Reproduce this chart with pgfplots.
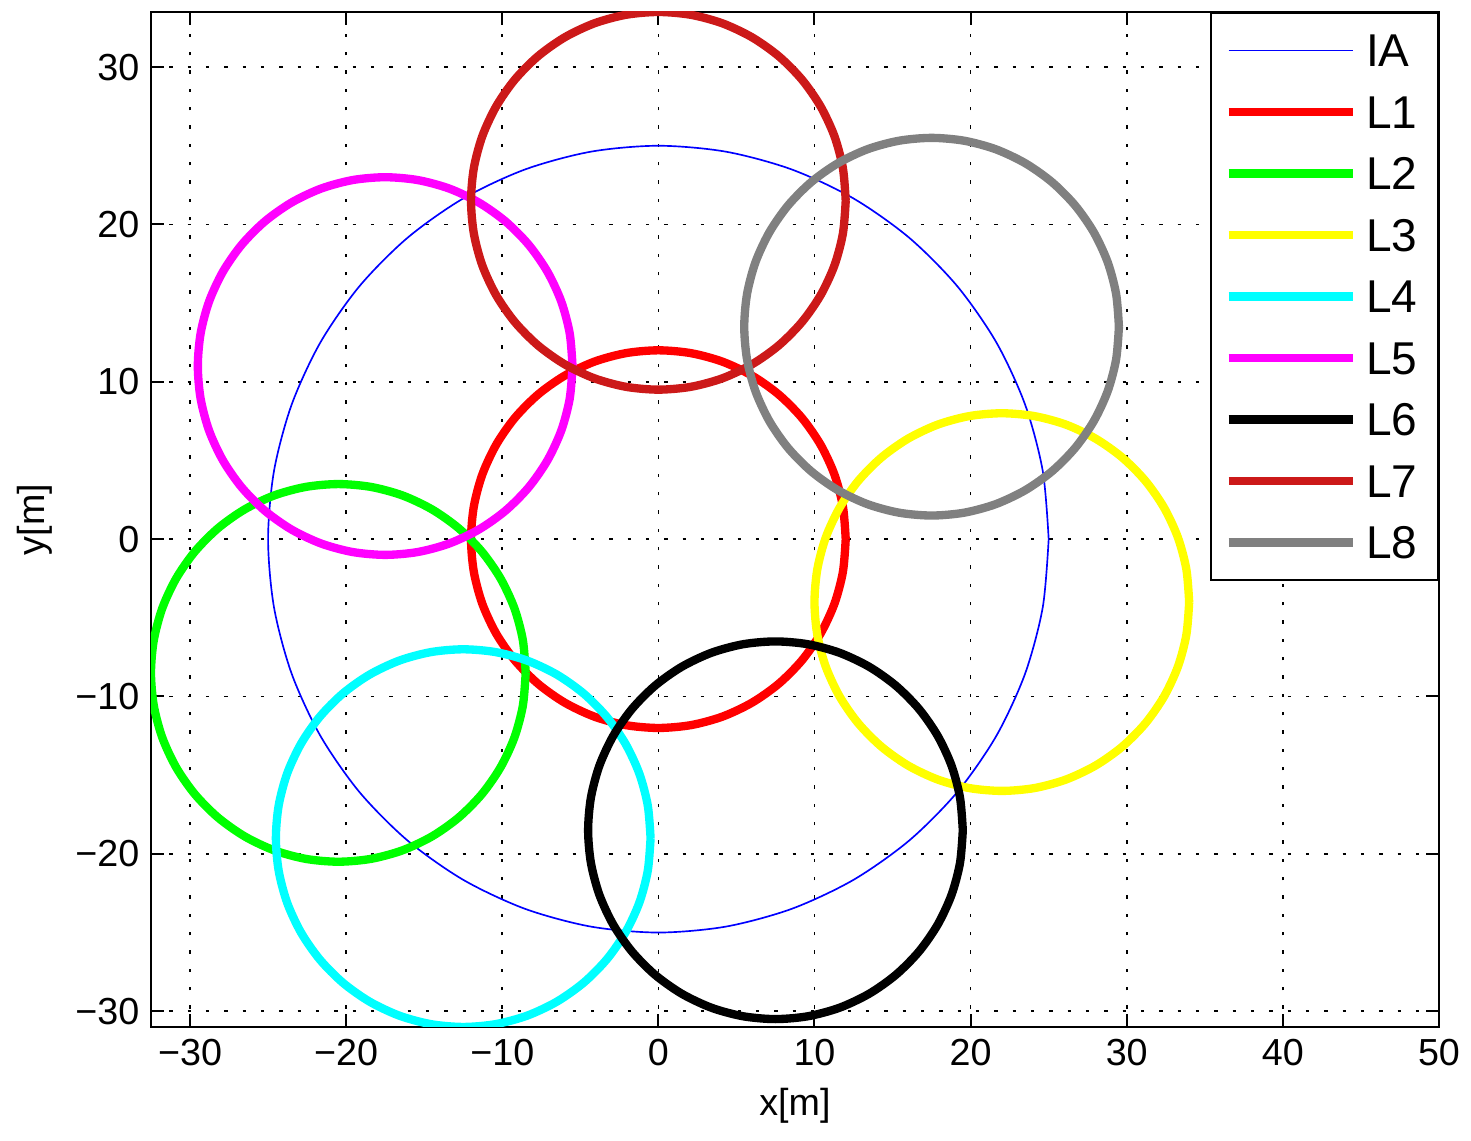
\documentclass[border=0pt]{standalone}
\usepackage{fontspec}
\setmainfont{Liberation Sans}
\usepackage{pgfplots}
\pgfplotsset{compat=1.18}
\definecolor{lred}{rgb}{1,0,0}
\definecolor{lgreen}{rgb}{0,1,0}
\definecolor{lyellow}{rgb}{1,1,0}
\definecolor{lcyan}{rgb}{0,1,1}
\definecolor{lmagenta}{rgb}{1,0,1}
\definecolor{lseven}{rgb}{0.8,0.1,0.1}
\definecolor{leight}{rgb}{0.5,0.5,0.5}
\definecolor{lblue}{rgb}{0,0,1}

\begin{document}
\begin{tikzpicture}
\begin{axis}[
  scale only axis,
  width=386.4pt, height=304.5pt,
  xmin=-32.5, xmax=50, ymin=-31, ymax=33.5,
  xtick={-30,-20,...,50}, ytick={-30,-20,...,30},
  xticklabels={−30,−20,−10,0,10,20,30,40,50},
  yticklabels={−30,−20,−10,0,10,20,30},
  tick align=inside, tick pos=both,
  major tick length=4pt,
  tick style={black, line width=0.6pt},
  axis line style={line width=0.6pt},
  grid=major,
  grid style={black, line width=0.5pt, dash pattern=on 1pt off 4.5pt},
  ticklabel style={font=\fontsize{11.3}{13}\selectfont},
  label style={font=\fontsize{11.3}{13}\selectfont},
  xlabel={x[m]}, ylabel={y[m]},
  legend style={at={(1,1)}, anchor=north east, draw=black, line width=0.6pt,
    font=\fontsize{13.8}{15}\selectfont, inner xsep=4pt, inner ysep=6.3pt,
    row sep=8.55pt,
    /tikz/every odd column/.append style={column sep=0.6pt},
    nodes={inner ysep=0pt, inner xsep=2.2pt, text height=9.9pt, text depth=0pt}},
  legend cell align=left,
  legend image code/.code={\path (0pt,0pt) -- (1.6pt,0pt);
    \draw[#1] (1.6pt,0pt) -- (37.2pt,0pt);},
  every axis plot/.append style={line join=round},
]
% IA
\addplot[lblue, line width=0.5pt, smooth] coordinates {
(25,0) (24.62,4.34) (23.49,8.55) (21.65,12.5) (19.15,16.07) (16.07,19.15) (12.5,21.65) (8.55,23.49) (4.34,24.62)
(0,25) (-4.34,24.62) (-8.55,23.49) (-12.5,21.65) (-16.07,19.15) (-19.15,16.07) (-21.65,12.5) (-23.49,8.55) (-24.62,4.34)
(-25,0) (-24.62,-4.34) (-23.49,-8.55) (-21.65,-12.5) (-19.15,-16.07) (-16.07,-19.15) (-12.5,-21.65) (-8.55,-23.49) (-4.34,-24.62)
(0,-25) (4.34,-24.62) (8.55,-23.49) (12.5,-21.65) (16.07,-19.15) (19.15,-16.07) (21.65,-12.5) (23.49,-8.55) (24.62,-4.34)
(25,0)};
\addlegendentry{IA}
% L1
\addplot[lred, line width=2.5pt, smooth] coordinates {
(12,0) (11.82,2.08) (11.28,4.10) (10.39,6) (9.19,7.71) (7.71,9.19) (6,10.39) (4.10,11.28) (2.08,11.82)
(0,12) (-2.08,11.82) (-4.10,11.28) (-6,10.39) (-7.71,9.19) (-9.19,7.71) (-10.39,6) (-11.28,4.10) (-11.82,2.08)
(-12,0) (-11.82,-2.08) (-11.28,-4.10) (-10.39,-6) (-9.19,-7.71) (-7.71,-9.19) (-6,-10.39) (-4.10,-11.28) (-2.08,-11.82)
(0,-12) (2.08,-11.82) (4.10,-11.28) (6,-10.39) (7.71,-9.19) (9.19,-7.71) (10.39,-6) (11.28,-4.10) (11.82,-2.08)
(12,0)};
\addlegendentry{L1}
% L2
\addplot[lgreen, line width=2.5pt, smooth] coordinates {
(-8.5,-8.5) (-8.68,-6.42) (-9.22,-4.40) (-10.11,-2.5) (-11.31,-0.79) (-12.79,0.69) (-14.5,1.89) (-16.4,2.78) (-18.42,3.32)
(-20.5,3.5) (-22.58,3.32) (-24.6,2.78) (-26.5,1.89) (-28.21,0.69) (-29.69,-0.79) (-30.89,-2.5) (-31.78,-4.40) (-32.32,-6.42)
(-32.5,-8.5) (-32.32,-10.58) (-31.78,-12.6) (-30.89,-14.5) (-29.69,-16.21) (-28.21,-17.69) (-26.5,-18.89) (-24.6,-19.78) (-22.58,-20.32)
(-20.5,-20.5) (-18.42,-20.32) (-16.4,-19.78) (-14.5,-18.89) (-12.79,-17.69) (-11.31,-16.21) (-10.11,-14.5) (-9.22,-12.6) (-8.68,-10.58)
(-8.5,-8.5)};
\addlegendentry{L2}
% L3
\addplot[lyellow, line width=2.5pt, smooth] coordinates {
(34,-4) (33.82,-1.92) (33.28,0.10) (32.39,2) (31.19,3.71) (29.71,5.19) (28,6.39) (26.10,7.28) (24.08,7.82)
(22,8) (19.92,7.82) (17.90,7.28) (16,6.39) (14.29,5.19) (12.81,3.71) (11.61,2) (10.72,0.10) (10.18,-1.92)
(10,-4) (10.18,-6.08) (10.72,-8.10) (11.61,-10) (12.81,-11.71) (14.29,-13.19) (16,-14.39) (17.90,-15.28) (19.92,-15.82)
(22,-16) (24.08,-15.82) (26.10,-15.28) (28,-14.39) (29.71,-13.19) (31.19,-11.71) (32.39,-10) (33.28,-8.10) (33.82,-6.08)
(34,-4)};
\addlegendentry{L3}
% L4
\addplot[lcyan, line width=2.5pt, smooth] coordinates {
(-0.5,-19) (-0.68,-16.92) (-1.22,-14.90) (-2.11,-13) (-3.31,-11.29) (-4.79,-9.81) (-6.5,-8.61) (-8.4,-7.72) (-10.42,-7.18)
(-12.5,-7) (-14.58,-7.18) (-16.6,-7.72) (-18.5,-8.61) (-20.21,-9.81) (-21.69,-11.29) (-22.89,-13) (-23.78,-14.90) (-24.32,-16.92)
(-24.5,-19) (-24.32,-21.08) (-23.78,-23.10) (-22.89,-25) (-21.69,-26.71) (-20.21,-28.19) (-18.5,-29.39) (-16.6,-30.28) (-14.58,-30.82)
(-12.5,-31) (-10.42,-30.82) (-8.4,-30.28) (-6.5,-29.39) (-4.79,-28.19) (-3.31,-26.71) (-2.11,-25) (-1.22,-23.10) (-0.68,-21.08)
(-0.5,-19)};
\addlegendentry{L4}
% L5
\addplot[lmagenta, line width=2.5pt, smooth] coordinates {
(-5.5,11) (-5.68,13.08) (-6.22,15.10) (-7.11,17) (-8.31,18.71) (-9.79,20.19) (-11.5,21.39) (-13.4,22.28) (-15.42,22.82)
(-17.5,23) (-19.58,22.82) (-21.6,22.28) (-23.5,21.39) (-25.21,20.19) (-26.69,18.71) (-27.89,17) (-28.78,15.10) (-29.32,13.08)
(-29.5,11) (-29.32,8.92) (-28.78,6.90) (-27.89,5) (-26.69,3.29) (-25.21,1.81) (-23.5,0.61) (-21.6,-0.28) (-19.58,-0.82)
(-17.5,-1) (-15.42,-0.82) (-13.4,-0.28) (-11.5,0.61) (-9.79,1.81) (-8.31,3.29) (-7.11,5) (-6.22,6.90) (-5.68,8.92)
(-5.5,11)};
\addlegendentry{L5}
% L6
\addplot[black, line width=2.5pt, smooth] coordinates {
(19.5,-18.5) (19.32,-16.42) (18.78,-14.40) (17.89,-12.5) (16.69,-10.79) (15.21,-9.31) (13.5,-8.11) (11.6,-7.22) (9.58,-6.68)
(7.5,-6.5) (5.42,-6.68) (3.4,-7.22) (1.5,-8.11) (-0.21,-9.31) (-1.69,-10.79) (-2.89,-12.5) (-3.78,-14.40) (-4.32,-16.42)
(-4.5,-18.5) (-4.32,-20.58) (-3.78,-22.60) (-2.89,-24.5) (-1.69,-26.21) (-0.21,-27.69) (1.5,-28.89) (3.4,-29.78) (5.42,-30.32)
(7.5,-30.5) (9.58,-30.32) (11.6,-29.78) (13.5,-28.89) (15.21,-27.69) (16.69,-26.21) (17.89,-24.5) (18.78,-22.60) (19.32,-20.58)
(19.5,-18.5)};
\addlegendentry{L6}
% L7
\addplot[lseven, line width=2.5pt, smooth] coordinates {
(12,21.5) (11.82,23.58) (11.28,25.60) (10.39,27.5) (9.19,29.21) (7.71,30.69) (6,31.89) (4.10,32.78) (2.08,33.32)
(0,33.5) (-2.08,33.32) (-4.10,32.78) (-6,31.89) (-7.71,30.69) (-9.19,29.21) (-10.39,27.5) (-11.28,25.60) (-11.82,23.58)
(-12,21.5) (-11.82,19.42) (-11.28,17.40) (-10.39,15.5) (-9.19,13.79) (-7.71,12.31) (-6,11.11) (-4.10,10.22) (-2.08,9.68)
(0,9.5) (2.08,9.68) (4.10,10.22) (6,11.11) (7.71,12.31) (9.19,13.79) (10.39,15.5) (11.28,17.40) (11.82,19.42)
(12,21.5)};
\addlegendentry{L7}
% L8
\addplot[leight, line width=2.5pt, smooth] coordinates {
(29.5,13.5) (29.32,15.58) (28.78,17.60) (27.89,19.5) (26.69,21.21) (25.21,22.69) (23.5,23.89) (21.6,24.78) (19.58,25.32)
(17.5,25.5) (15.42,25.32) (13.4,24.78) (11.5,23.89) (9.79,22.69) (8.31,21.21) (7.11,19.5) (6.22,17.60) (5.68,15.58)
(5.5,13.5) (5.68,11.42) (6.22,9.40) (7.11,7.5) (8.31,5.79) (9.79,4.31) (11.5,3.11) (13.4,2.22) (15.42,1.68)
(17.5,1.5) (19.58,1.68) (21.6,2.22) (23.5,3.11) (25.21,4.31) (26.69,5.79) (27.89,7.5) (28.78,9.40) (29.32,11.42)
(29.5,13.5)};
\addlegendentry{L8}
\end{axis}
\path (current axis.south west) ++(-45.3pt,-34.2pt);
\path (current axis.north east) ++(9.6pt,3.6pt);
\end{tikzpicture}
\end{document}
